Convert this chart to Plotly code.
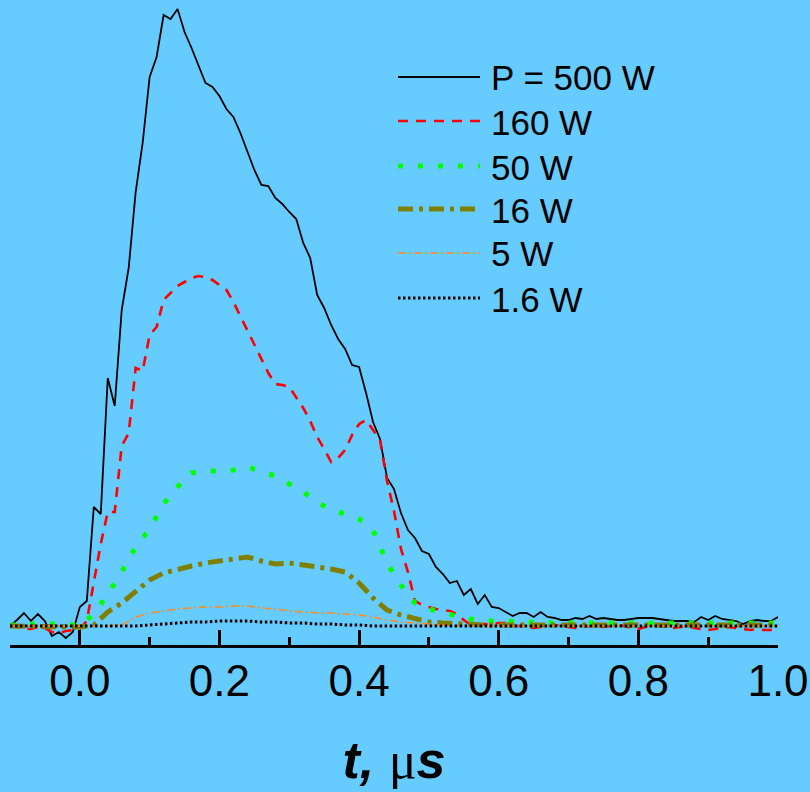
import plotly.graph_objects as go

# ---- data (arbitrary signal units) ----
t_fine = [round(-0.10 + 0.01 * i, 2) for i in range(111)]
t_coarse = [round(-0.10 + 0.02 * i, 2) for i in range(56)]

p500 = [0, 6, 13, 5, 12, 5, -10, -6, -12, -6,
        19, 25, 119, 112, 248, 220, 316, 358, 434, 483,
        549, 569, 611, 607, 617, 594, 578, 561, 543, 539,
        530, 517, 509, 493, 474, 456, 441, 440, 428, 422,
        414, 407, 383, 368, 331, 318, 301, 287, 277, 261,
        259, 233, 204, 187, 148, 137, 113, 96, 88, 75,
        72, 59, 52, 43, 45, 31, 37, 22, 31, 19,
        18, 14, 10, 13, 13, 9, 14, 9, 8, 6,
        6, 8, 7, 10, 7, 8, 7, 6, 6, 7,
        8, 8, 8, 7, 6, 5, 5, 5, 4, 9,
        6, 10, 7, 6, 5, 2, 5, 6, 5, 5, 9]

p160 = [1, -1, -3, -3, -1, -2, -6, -7, -5, -4,
        -3, 5, 42, 82, 114, 114, 180, 193, 258, 255,
        291, 299, 326, 333, 340, 344, 348, 350, 349, 346,
        341, 336, 324, 310, 295, 282, 268, 253, 242, 241,
        239, 229, 218, 205, 189, 177, 164, 168, 176, 191,
        202, 206, 196, 186, 145, 115, 77, 54, 25, 21,
        19, 17, 16, 15, 12, 6, 1, 1, 2, 2,
        3, 3, 0, 0, -1, -2, -1, 0, 1, 0,
        -1, -2, -1, 0, 0, -1, 0, 1, 0, -2,
        -3, -1, 0, 0, -1, -2, -1, 0, -2, -3,
        -4, -3, -2, -1, -2, -3, -4, -3, -4, -4, -4]

p50 = [1, 2, 2, 2, 2, 0, 12, 32, 54, 79,
       97, 122, 139, 153, 155, 155, 156, 159, 155, 150,
       142, 134, 124, 116, 112, 107, 96, 63, 41, 23,
       17, 13, 10, 7, 5, 5, 5, 4, 3, 3,
       3, 3, 3, 3, 3, 3, 3, 3, 3, 3,
       3, 3, 3, 3, 3, 3]

p16 = [0, 0, 0, -1, -1, -1, 1, 14, 23, 35,
       46, 53, 57, 60, 63, 65, 67, 69, 65, 62,
       63, 61, 60, 57, 54, 43, 28, 16, 11, 8,
       4, 3, 2, 2, 1, 1, 1, 1, 1, 1,
       1, 1, 1, 1, 1, 1, 1, 1, 1, 1,
       1, 1, 1, 1, 1, 1]

p5 = [0, 0, 0, 0, 0, 0, 0, 0, 1, 9,
      13, 15, 17, 18, 19, 19, 20, 20, 18, 17,
      15, 14, 13, 13, 12, 11, 9, 6, 4, 3,
      2, 1, 0, 0, 0, 0, 0, 0, 0, 0,
      0, 0, 0, 0, 0, 0, 0, 0, 0, 0,
      0, 0, 0, 0, 0, 0]

p1_6 = [0, 0, 0, 0, 0, 0, 0, 0, 0, 0,
        1, 2, 3, 4, 4, 5, 5, 5, 4, 4,
        3, 3, 2, 2, 1, 1, 0, 0, 0, 0,
        0, 0, 0, 0, 0, 0, 0, 0, 0, 0,
        0, 0, 0, 0, 0, 0, 0, 0, 0, 0,
        0, 0, 0, 0, 0, 0]

labels = ["P = 500 W", "160 W", "50 W", "16 W", "5 W", "1.6 W"]
tick_vals = [0.0, 0.2, 0.4, 0.6, 0.8, 1.0]
tick_text = ["0.0", "0.2", "0.4", "0.6", "0.8", "1.0"]

# ---- styles ----
styles = [
    dict(color="black", width=1.8, dash="solid"),
    dict(color="#FF0000", width=2.6, dash="10px,8px"),
    dict(color="#00FF00", width=5, dash="5px,15px"),
    dict(color="#808000", width=5, dash="15px,6px,4px,6px"),
    dict(color="#FF8C1A", width=1.5, dash="8px,3px,2px,3px"),
    dict(color="black", width=3, dash="2.5px,2.5px"),
]
series = [(t_fine, p500), (t_fine, p160), (t_coarse, p50),
          (t_coarse, p16), (t_coarse, p5), (t_coarse, p1_6)]

W, H = 810, 792
ML, MR, MT, MB = 10, 32, 0, 147
BG = "#66CCFF"
FONT = "Arial, Liberation Sans, sans-serif"

fig = go.Figure()
for (xs, ys), st, name in zip(series, styles, labels):
    fig.add_trace(go.Scatter(x=xs, y=ys, mode="lines", name=name,
                             line=st, showlegend=False, hoverinfo="skip"))

# ---- hand-drawn legend (long line samples) ----
pw, ph = W - ML - MR, H - MT - MB
def xp(px):
    return (px - ML) / pw
def yp(py):
    return (H - MB - py) / ph

rows_py = [77, 121, 166, 209, 253, 298]
for st, name, py in zip(styles, labels, rows_py):
    fig.add_shape(type="line", xref="paper", yref="paper",
                  x0=xp(398), x1=xp(480), y0=yp(py), y1=yp(py),
                  line=st)
    fig.add_annotation(xref="paper", yref="paper", x=xp(489), y=yp(py + 1),
                       text=name, showarrow=False, xanchor="left",
                       yanchor="middle",
                       font=dict(family=FONT, size=35, color="black"))

fig.update_layout(
    width=W, height=H,
    margin=dict(l=ML, r=MR, t=MT, b=MB, autoexpand=False),
    paper_bgcolor=BG, plot_bgcolor=BG,
    showlegend=False,
    xaxis=dict(
        range=[-0.1, 1.0], showgrid=False, zeroline=False,
        showline=True, linecolor="black", linewidth=3,
        ticks="inside", ticklen=15, tickwidth=3, tickcolor="black",
        tickvals=tick_vals, ticktext=tick_text,
        tickfont=dict(family=FONT, size=44, color="black"),
        ticklabelstandoff=-5,
        minor=dict(dtick=0.1, tick0=0, ticks="inside", ticklen=8,
                   tickwidth=3, tickcolor="black", showgrid=False),
        title=dict(
            text="<b><i>t,</i></b> <span style='font-family:Liberation Serif, DejaVu Serif, serif;font-weight:normal'>μ</span><b><i>s</i></b>",
            font=dict(family=FONT, size=52, color="black"),
            standoff=38),
        automargin=False,
    ),
    yaxis=dict(range=[-19, 626], visible=False, fixedrange=True),
)

fig.write_html(
    "out.html",
    config={"displayModeBar": False, "staticPlot": True},
    post_script="document.body.style.margin='0';"
                "document.body.style.background='%s';"
                "document.body.style.overflow='hidden';" % BG,
)
